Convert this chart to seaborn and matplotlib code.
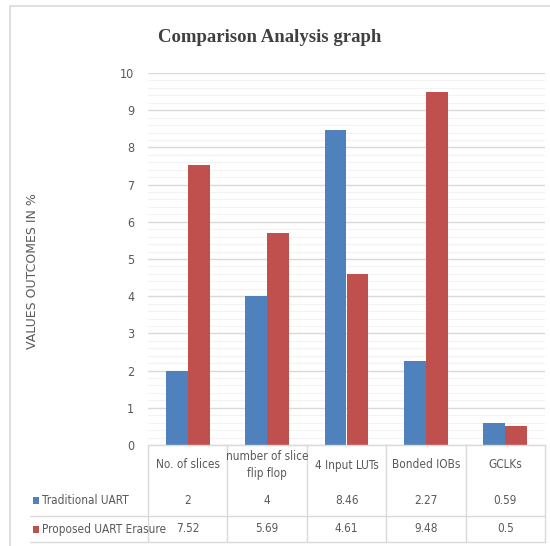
import pandas as pd
import numpy as np
import seaborn as sns
import matplotlib.pyplot as plt
from matplotlib.lines import Line2D
from matplotlib.patches import Rectangle
import matplotlib.transforms as mtransforms

# ---------------------------------------------------------
# DATA
# ---------------------------------------------------------
categories = ["No. of slices", "number of slice\nflip flop", "4 Input LUTs", "Bonded IOBs", "GCLKs"]
series_names = ["Traditional UART", "Proposed UART Erasure"]
traditional = [2, 4, 8.46, 2.27, 0.59]
proposed = [7.52, 5.69, 4.61, 9.48, 0.5]
traditional_txt = ["2", "4", "8.46", "2.27", "0.59"]
proposed_txt = ["7.52", "5.69", "4.61", "9.48", "0.5"]
y_ticks = list(range(0, 11))

colors = ["#4F81BD", "#C0504D"]
text_col = "#595959"
grid_major = "#D9D9D9"
grid_minor = "#F2F2F2"

df = pd.DataFrame({
    "category": categories * 2,
    "series": [series_names[0]] * 5 + [series_names[1]] * 5,
    "value": traditional + proposed,
})

sns.set_style("white")
plt.rcParams["font.family"] = ["DejaVu Sans"]
plt.rcParams["font.stretch"] = "condensed"

fig = plt.figure(figsize=(5.5, 5.46), dpi=100)
W, H = 550.0, 546.0

def fx(px):
    return px / W

def fy(py):
    return 1 - py / H

# outer chart frame
fig.add_artist(Rectangle((fx(10), fy(560)), 1.2, fy(6) - fy(560), transform=fig.transFigure,
                         fill=False, edgecolor="#D9D9D9", linewidth=1.2))

ax = fig.add_axes([fx(148), fy(445), fx(545) - fx(148), fy(73) - fy(445)])

sns.barplot(data=df, x="category", y="value", hue="series", order=categories,
            hue_order=series_names, palette=colors, width=0.55, saturation=1,
            linewidth=0, legend=False, ax=ax)

ax.set_ylim(0, 10)
ax.set_xlim(-0.5, 4.5)
ax.set_yticks(y_ticks)
ax.set_yticks(np.arange(0, 10.01, 0.2), minor=True)
ax.set_yticklabels([str(t) for t in y_ticks], fontsize=9, color=text_col)
ax.tick_params(axis="y", which="both", length=0, pad=10)
ax.set_xticks([])
ax.set_xlabel("")
ax.set_ylabel("")
ax.grid(axis="y", which="minor", color=grid_minor, linewidth=0.8)
ax.grid(axis="y", which="major", color=grid_major, linewidth=1.0)
ax.set_axisbelow(True)
for s in ax.spines.values():
    s.set_visible(False)

# ---------------------------------------------------------
# DATA TABLE BELOW THE CHART
# ---------------------------------------------------------
trans = mtransforms.blended_transform_factory(ax.transData, ax.transAxes)
ax_h = fy(73) - fy(445)

def ay(py):
    return (fy(py) - fy(445)) / ax_h

line_kw = dict(color=grid_major, linewidth=1.0, clip_on=False)
# vertical cell borders
for b in np.arange(-0.5, 5.0, 1.0):
    ax.add_line(Line2D([b, b], [0, ay(542)], transform=trans, **line_kw))
# horizontal borders
ax.add_line(Line2D([-0.5, 4.5], [0, 0], transform=trans, **line_kw))
fig.add_artist(Line2D([fx(30), fx(545)], [fy(516), fy(516)], transform=fig.transFigure, **line_kw))
fig.add_artist(Line2D([fx(30), fx(545)], [fy(542), fy(542)], transform=fig.transFigure, **line_kw))

for i, cat in enumerate(categories):
    ax.text(i, ay(465), cat, transform=trans, ha="center", va="center",
            fontsize=8.5, color=text_col, linespacing=1.5)
    ax.text(i, ay(500), traditional_txt[i], transform=trans, ha="center", va="center",
            fontsize=8.5, color=text_col)
    ax.text(i, ay(529), proposed_txt[i], transform=trans, ha="center", va="center",
            fontsize=8.5, color=text_col)

# legend keys in the table
for name, col, py in zip(series_names, colors, [500, 529]):
    fig.add_artist(Rectangle((fx(33), fy(py) - 3.5 / H), 6 / W, 7 / H, transform=fig.transFigure,
                             facecolor=col, edgecolor="none"))
    fig.text(fx(42), fy(py), name, ha="left", va="center", fontsize=8.5, color=text_col)

# titles
fig.text(fx(270), fy(38), "Comparison Analysis graph", ha="center", va="center",
         fontsize=13.5, fontweight="bold", color="#404040", family="Liberation Serif",
         fontstretch="normal")
fig.text(fx(33), fy(271), "VALUES OUTCOMES IN %", rotation=90, ha="center", va="center",
         fontsize=9, color=text_col, family="DejaVu Sans", fontstretch="normal")

plt.savefig("out.png", dpi=100)
